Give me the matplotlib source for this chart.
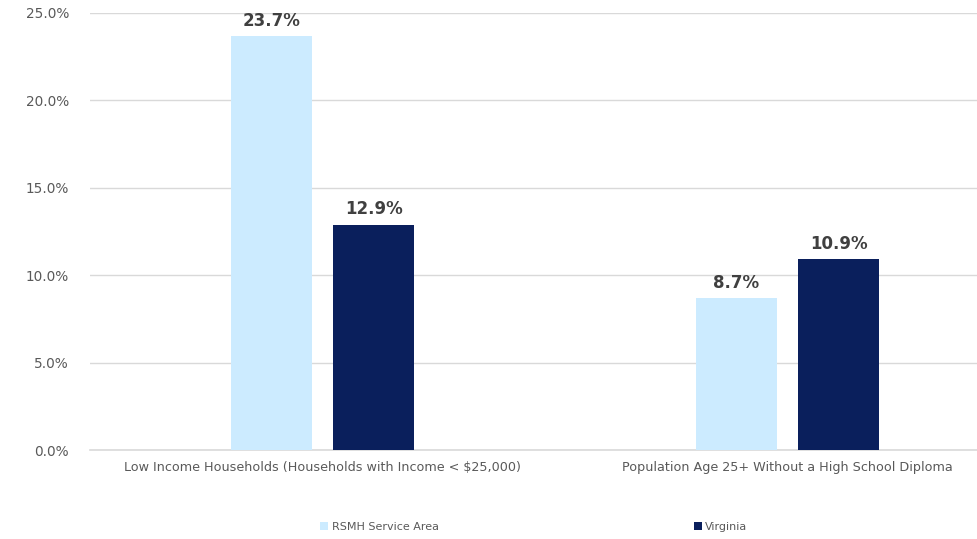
import matplotlib.pyplot as plt
import numpy as np

categories = ['Low Income Households (Households with Income < $25,000)',
              'Population Age 25+ Without a High School Diploma']
series_names = ['RSMH Service Area', 'Virginia']
rsmh_values = [23.7, 8.7]
virginia_values = [12.9, 10.9]
y_ticks = [0, 5, 10, 15, 20, 25]

colors = {'rsmh': '#CCEBFF', 'virginia': '#0A1F5C', 'text': '#595959',
          'label': '#404040', 'grid': '#D9D9D9'}

fig = plt.figure(figsize=(9.78, 5.39), dpi=100)
ax = fig.add_axes([90 / 978, 89 / 539, 930 / 978, 437 / 539])

x = np.arange(len(categories))
width = 0.174
offset = 0.11
bars1 = ax.bar(x - offset, rsmh_values, width, color=colors['rsmh'], label=series_names[0], zorder=3)
bars2 = ax.bar(x + offset, virginia_values, width, color=colors['virginia'], label=series_names[1], zorder=3)

for bars in (bars1, bars2):
    for b in bars:
        ax.text(b.get_x() + b.get_width() / 2, b.get_height() + 0.35, f'{b.get_height():.1f}%',
                ha='center', va='bottom', fontsize=12, fontweight='bold', color=colors['label'])

ax.set_xlim(-0.5, 1.5)
ax.set_ylim(0, 25)
ax.set_yticks(y_ticks)
ax.set_yticklabels([f'{v:.1f}%' for v in y_ticks])
ax.set_xticks(x)
ax.set_xticklabels(categories)
ax.tick_params(axis='y', length=0, labelsize=9.8, colors=colors['text'], pad=15)
ax.tick_params(axis='x', length=0, labelsize=9.2, colors=colors['text'], pad=8)

ax.yaxis.grid(True, color=colors['grid'], linewidth=1, zorder=0)
for s in ['top', 'right', 'left']:
    ax.spines[s].set_visible(False)
ax.spines['bottom'].set_color(colors['grid'])
ax.spines['bottom'].set_linewidth(1.2)

leg = fig.legend(handles=[bars1, bars2], labels=series_names, loc='center',
                 bbox_to_anchor=(534 / 978, 1 - 527 / 539), ncol=2, frameon=False,
                 fontsize=8, handlelength=0.7, handleheight=0.7, handletextpad=0.3,
                 columnspacing=23)
for t in leg.get_texts():
    t.set_color(colors['text'])

fig.savefig('out.png', dpi=100)
